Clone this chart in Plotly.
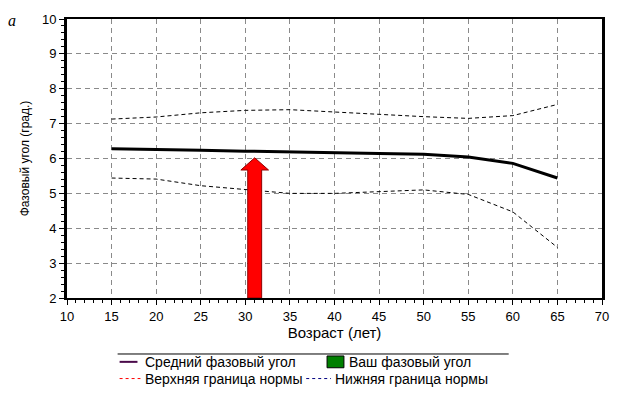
import plotly.graph_objects as go

# ---------------- data ----------------
ages = [15, 20, 25, 30, 35, 40, 45, 50, 55, 60, 65]
mean_angle = [6.28, 6.27, 6.24, 6.21, 6.18, 6.15, 6.14, 6.12, 6.04, 5.86, 5.44]
upper_norm = [7.13, 7.19, 7.31, 7.38, 7.40, 7.33, 7.25, 7.20, 7.15, 7.23, 7.55]
lower_norm = [5.44, 5.41, 5.22, 5.10, 5.00, 5.00, 5.06, 5.10, 4.97, 4.47, 3.45]

your_age = 31.05
your_angle = 6.02

x_ticks = [10, 15, 20, 25, 30, 35, 40, 45, 50, 55, 60, 65, 70]
y_ticks = [2, 3, 4, 5, 6, 7, 8, 9, 10]

legend_labels = ["Средний фазовый угол", "Ваш фазовый угол",
                 "Верхняя граница нормы", "Нижняя граница нормы"]

# ---------------- geometry ----------------
W, H = 621, 394
ML, MR, MT, MB = 67, 15, 14, 96
PW = W - ML - MR
PH = H - MT - MB
FONT = "Liberation Sans, Arial, sans-serif"


def px(xp):
    return (xp - ML) / PW


def py(yp):
    return (H - MB - yp) / PH


fig = go.Figure()

# norm bounds
fig.add_trace(go.Scatter(x=ages, y=upper_norm, mode="lines",
                         line=dict(color="black", width=1, dash="4px,3px"),
                         showlegend=False, hoverinfo="skip"))
fig.add_trace(go.Scatter(x=ages, y=lower_norm, mode="lines",
                         line=dict(color="black", width=1, dash="4px,3px"),
                         showlegend=False, hoverinfo="skip"))
# mean
fig.add_trace(go.Scatter(x=ages, y=mean_angle, mode="lines",
                         line=dict(color="black", width=3),
                         showlegend=False, hoverinfo="skip"))

# arrow (your phase angle)
base = y_ticks[0]
sw = 0.78   # shaft half-width (years)
hw = 1.55   # head half-width (years)
hh = 0.35   # head height (degrees)
ax = [your_age - sw, your_age - sw, your_age - hw, your_age, your_age + hw,
      your_age + sw, your_age + sw, your_age - sw]
ay = [base, your_angle - hh, your_angle - hh, your_angle, your_angle - hh,
      your_angle - hh, base, base]
fig.add_trace(go.Scatter(x=ax, y=ay, mode="lines", fill="toself",
                         fillcolor="#ff0000",
                         line=dict(color="#900000", width=1),
                         showlegend=False, hoverinfo="skip"))

axis_common = dict(
    showline=True, linecolor="black", mirror=True,
    ticks="outside", ticklen=5, tickcolor="black", tickwidth=1,
    showgrid=True, gridcolor="#8a8a8a", gridwidth=1, griddash="5px,4px",
    zeroline=False, tickmode="linear",
    tickfont=dict(family=FONT, size=13, color="black"),
)

fig.update_xaxes(**axis_common, range=[x_ticks[0], x_ticks[-1]],
                 tick0=x_ticks[0], dtick=x_ticks[1] - x_ticks[0],
                 linewidth=2,
                 minor=dict(dtick=1, ticks="outside", ticklen=3,
                            tickcolor="black", showgrid=False),
                 title=dict(text="Возраст (лет)", standoff=3,
                            font=dict(family=FONT, size=15, color="black")))
fig.update_yaxes(**axis_common, range=[y_ticks[0], y_ticks[-1]],
                 tick0=y_ticks[0], dtick=y_ticks[1] - y_ticks[0],
                 linewidth=3,
                 minor=dict(dtick=0.2, ticks="outside", ticklen=3,
                            tickcolor="black", showgrid=False),
                 title=dict(text="Фазовый угол (град.)", standoff=10,
                            font=dict(family=FONT, size=12, color="black")))

shapes = []
annotations = []

# legend top rule
shapes.append(dict(type="line", xref="paper", yref="paper",
                   x0=px(118), x1=px(512), y0=py(355), y1=py(355),
                   line=dict(color="black", width=1)))
# legend symbols
shapes.append(dict(type="line", xref="paper", yref="paper",
                   x0=px(120), x1=px(138), y0=py(363), y1=py(363),
                   line=dict(color="#4a0a4a", width=2)))
shapes.append(dict(type="rect", xref="paper", yref="paper",
                   x0=px(329), x1=px(346), y0=py(369), y1=py(357),
                   fillcolor="#008000", line=dict(color="black", width=1)))
shapes.append(dict(type="line", xref="paper", yref="paper",
                   x0=px(120), x1=px(141), y0=py(380), y1=py(380),
                   line=dict(color="#ff0000", width=1, dash="3px,3px")))
shapes.append(dict(type="line", xref="paper", yref="paper",
                   x0=px(308), x1=px(333), y0=py(380), y1=py(380),
                   line=dict(color="#000080", width=1, dash="3px,3px")))

legend_pos = [(144, 363), (349, 363), (144, 380), (335, 380)]
for lab, (lx, ly) in zip(legend_labels, legend_pos):
    annotations.append(dict(text=lab, xref="paper", yref="paper",
                            x=px(lx), y=py(ly), xanchor="left", yanchor="middle",
                            showarrow=False,
                            font=dict(family=FONT, size=14, color="black")))

# panel letter
annotations.append(dict(text="<i>а</i>", xref="paper", yref="paper",
                        x=px(12), y=py(16), xanchor="center", yanchor="middle",
                        showarrow=False,
                        font=dict(family="Liberation Serif, Times New Roman, serif",
                                  size=16, color="black")))

fig.update_layout(
    width=W, height=H,
    margin=dict(l=ML, r=MR, t=MT, b=MB, pad=0),
    paper_bgcolor="white", plot_bgcolor="white",
    showlegend=False,
    shapes=shapes, annotations=annotations,
)

fig.write_html("out.html")
